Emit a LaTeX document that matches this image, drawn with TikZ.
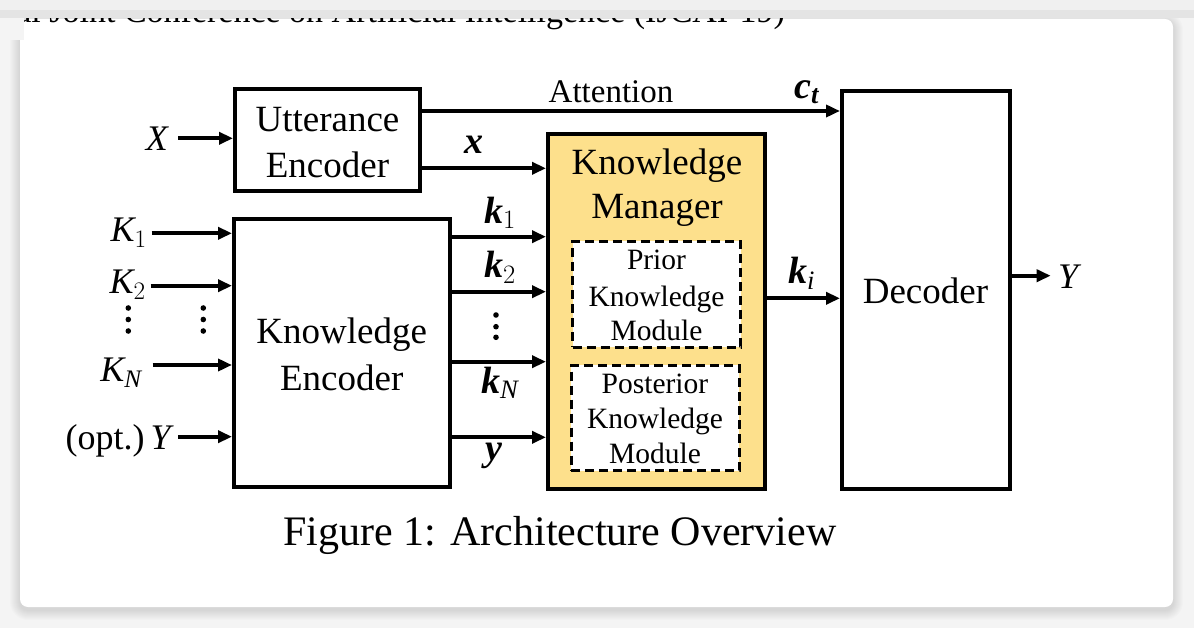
\RequirePackage{fix-cm}
\documentclass[tikz,border=0pt]{standalone}
\usepackage{amsmath}
\usepackage{fontspec}
\setmainfont{Liberation Serif}
\usetikzlibrary{arrows.meta}
\definecolor{kmfill}{RGB}{253,224,140}
\definecolor{bggray}{RGB}{244,244,244}
\definecolor{stripc}{RGB}{228,228,228}
\definecolor{stripl}{RGB}{240,240,240}
\newcommand{\bik}[1]{\textbf{\textit{#1}}}
\begin{document}
\begin{tikzpicture}[x=1pt,y=-1pt,
  box/.style={draw=black, line width=4pt, inner sep=0pt},
  dbox/.style={draw=black, line width=3pt, dash pattern=on 9pt off 5pt, fill=white, inner sep=0pt},
  conn/.style={line width=4pt, -{Triangle[length=14pt,width=12pt]}},
  lbl/.style={font=\fontsize{37}{46}\selectfont, inner sep=0pt, anchor=base},
  slbl/.style={font=\fontsize{29.5}{35}\selectfont, inner sep=0pt, anchor=base},
  mlbl/.style={font=\fontsize{36}{40}\selectfont, inner sep=0pt, anchor=base east},
  blbl/.style={font=\fontsize{38}{40}\selectfont, inner sep=0pt, anchor=base west},
  vdot/.style={fill=black}]
\useasboundingbox (0,0) rectangle (1194,628);
\fill[bggray] (0,0) rectangle (1194,628);
% card shadow
\foreach \i in {1,...,10}{
  \fill[black, opacity=0.012, rounded corners=8pt+\i pt] (20-\i,19-\i+3) rectangle (1173+\i,607+\i+3);
}
\fill[white, rounded corners=8pt] (20,19) rectangle (1173,607);
% header line, mostly hidden under the top strip
\node[font=\fontsize{34}{34}\selectfont, inner sep=0pt, anchor=base east] (hdr) at (785,23)
    {Proceedings of the Twenty-Eighth International Joint Conference on Artificial Intelligence (IJCAI-19)};
\fill[bggray] (0,0) rectangle (24,40);
\fill[stripl] (0,0) rectangle (1194,10);
\fill[stripc] (0,10) rectangle (1194,18);

% boxes
\node[box, minimum width=185pt, minimum height=102pt] (ue) at (327.5,140) {};
\node[box, minimum width=215.5pt, minimum height=267.5pt] (ke) at (341.75,353.25) {};
\node[box, fill=kmfill, minimum width=217.3pt, minimum height=355pt] (km) at (656.65,311.2) {};
\node[dbox, minimum width=168pt, minimum height=105.5pt] (pk) at (656.5,294.25) {};
\node[dbox, minimum width=168pt, minimum height=105.5pt] (qk) at (655,417.75) {};
\node[box, minimum width=167.7pt, minimum height=397.4pt] (dec) at (925.85,290) {};

% box texts
\node[lbl] (ue1) at (327.5,131.7) {Utterance};
\node[lbl] (ue2) at (327.5,177.3) {Encoder};
\node[lbl] (ke1) at (341.75,343.3) {Knowledge};
\node[lbl] (ke2) at (341.75,390) {Encoder};
\node[lbl] (km1) at (657,175) {Knowledge};
\node[lbl] (km2) at (657,218.3) {Manager};
\node[slbl] (pk1) at (656.5,270) {Prior};
\node[slbl] (pk2) at (656.5,306) {Knowledge};
\node[slbl] (pk3) at (656.5,340) {Module};
\node[slbl] (qk1) at (655,393.3) {Posterior};
\node[slbl] (qk2) at (655,428.3) {Knowledge};
\node[slbl] (qk3) at (655,463.3) {Module};
\node[lbl] (dec1) at (925.5,303.3) {Decoder};

% input arrows
\coordinate (xin) at (178.3,138.3);
\coordinate (k1in) at (151.7,233.3);
\coordinate (k2in) at (150.7,285.7);
\coordinate (knin) at (152.7,365);
\coordinate (yin) at (178.3,436.7);
\draw[conn] (xin) -- (xin -| ue.west);
\draw[conn] (k1in) -- (k1in -| ke.west);
\draw[conn] (k2in) -- (k2in -| ke.west);
\draw[conn] (knin) -- (knin -| ke.west);
\draw[conn] (yin) -- (yin -| ke.west);
\node[mlbl] (lX) at (168,150.5) {$\textit{X}$};
\node[mlbl] (lK1) at (147,241.7) {$\textit{K}_{1}$};
\node[mlbl] (lK2) at (146,293.7) {$\textit{K}_{2}$};
\node[mlbl] (lKN) at (142,381.7) {$\textit{K}_{\textit{N}}$};
\node[mlbl, font=\fontsize{36}{40}\selectfont] (lY) at (174,449) {(opt.)\hspace{6pt}\textit{Y}};
\foreach \yy in {308,319.5,331}{
  \fill[vdot] (128.3,\yy) circle (2.8pt);
  \fill[vdot] (203.3,\yy) circle (2.8pt);
}

% internal arrows
\coordinate (ratt) at (0,111);
\coordinate (rx) at (0,168.3);
\coordinate (r1) at (0,236.7);
\coordinate (r2) at (0,291.7);
\coordinate (rn) at (0,361.7);
\coordinate (ry) at (0,437.3);
\coordinate (ri) at (0,298.3);
\draw[conn] (ue.east |- ratt) -- (dec.west |- ratt);
\draw[conn] (ue.east |- rx) -- (km.west |- rx);
\draw[conn] (ke.east |- r1) -- (km.west |- r1);
\draw[conn] (ke.east |- r2) -- (km.west |- r2);
\draw[conn] (ke.east |- rn) -- (km.west |- rn);
\draw[conn] (ke.east |- ry) -- (km.west |- ry);
\draw[conn] (km.east |- ri) -- (dec.west |- ri);
\coordinate (yout) at (1050.7,275.7);
\draw[conn] (dec.east |- yout) -- (yout);

\node[font=\fontsize{33}{36}\selectfont, inner sep=0pt, anchor=base] (latt) at (611,102.7) {Attention};
\node[blbl] (lx) at (464,153.3) {$\bik{x}$};
\node[blbl] (lk1) at (484,223.3) {$\bik{k}_{1}$};
\node[blbl] (lk2) at (484,278) {$\bik{k}_{2}$};
\node[blbl] (lkn) at (481,393) {$\bik{k}_{\textit{N}}$};
\node[blbl] (ly) at (485,460.5) {$\bik{y}$};
\node[blbl] (lct) at (794,98.3) {$\bik{c}_{\bik{t}}$};
\node[blbl] (lki) at (788,284) {$\bik{k}_{\textit{i}}$};
\node[mlbl, anchor=base west] (lYo) at (1058,288.3) {\textit{Y}};
\foreach \yy in {315,326.7,337.3}{
  \fill[vdot] (496,\yy) circle (2.8pt);
}

% caption
\node[font=\fontsize{42}{46}\selectfont, inner sep=0pt, anchor=base] (cap) at (560,545) {Figure 1: Architecture Overview};
\end{tikzpicture}
\end{document}
